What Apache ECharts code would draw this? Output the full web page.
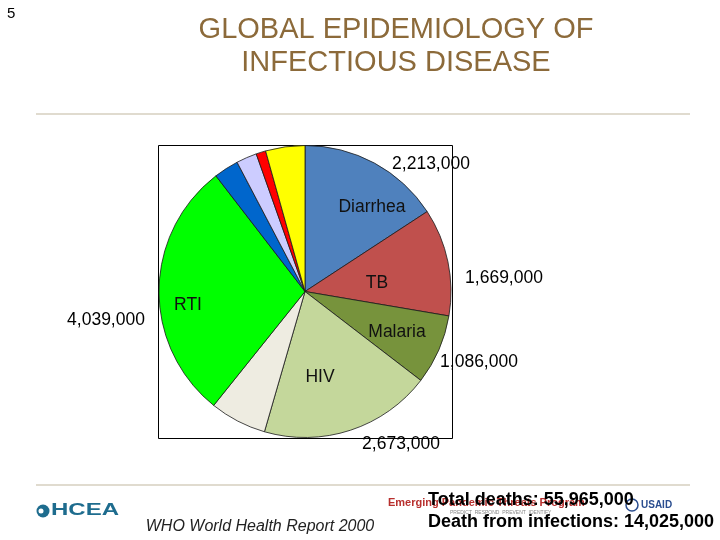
<!DOCTYPE html>
<html>
<head>
<meta charset="utf-8">
<script src="https://cdn.jsdelivr.net/npm/echarts@6/dist/echarts.min.js"></script>
<style>
html,body{margin:0;padding:0;background:#fff;}
#chart{width:720px;height:540px;}
</style>
</head>
<body>
<div id="chart"></div>
<script>
// ---- data ----
var categories = ['Diarrhea', 'TB', 'Malaria', 'HIV', 'Measles', 'RTI', 'Pertussis', 'Tetanus', 'Meningitis', 'Other'];
var deaths = [2213000, 1669000, 1086000, 2673000, 880000, 4039000, 385000, 320000, 150000, 610000];
var sliceColors = ['#4F81BD', '#C0504D', '#77933C', '#C4D79B', '#EEECE1', '#00FF00', '#0066CC', '#CCCCFF', '#FF0000', '#FFFF00'];
var nameLabels = ['Diarrhea', 'TB', 'Malaria', 'HIV', 'RTI'];
var valueLabels = ['Diarrhea', 'TB', 'Malaria', 'HIV', 'RTI'];
var titleLines = ['GLOBAL EPIDEMIOLOGY OF', 'INFECTIOUS DISEASE'];
var totalDeaths = '55,965,000';
var infectionDeaths = '14,025,000';
var sourceText = 'WHO World Health Report 2000';

// label placement (layout, not data)
var namePos = { 'Diarrhea': [372, 207], 'TB': [377, 283], 'Malaria': [397, 332], 'HIV': [320, 377], 'RTI': [188, 305] };
var valuePos = { 'Diarrhea': [431, 164], 'TB': [504, 278], 'Malaria': [479, 362], 'HIV': [401, 444], 'RTI': [106, 320] };

function fmt(v) { return String(v).replace(/\B(?=(\d{3})+(?!\d))/g, ','); }

var chart = echarts.init(document.getElementById('chart'), null, { renderer: 'canvas' });
var FONT = '"Liberation Sans", Arial, sans-serif';

var graphics = [];
// page number
graphics.push({ type: 'text', left: 7, top: 6, style: { text: '5', font: '15px ' + FONT, fill: '#000' } });
// title
titleLines.forEach(function (t, i) {
  graphics.push({ type: 'text', x: 396, y: 30 + i * 33, style: { text: t, font: '29px ' + FONT, fill: '#8C6A3A', textAlign: 'center', textVerticalAlign: 'middle' } });
});
// separator lines
graphics.push({ type: 'line', shape: { x1: 36, y1: 114, x2: 690, y2: 114 }, style: { stroke: '#E0DBCF', lineWidth: 2 } });
graphics.push({ type: 'line', shape: { x1: 36, y1: 485, x2: 690, y2: 485 }, style: { stroke: '#E0DBCF', lineWidth: 2 } });
// plot box
graphics.push({ type: 'rect', shape: { x: 158.5, y: 145.5, width: 294, height: 293 }, style: { stroke: '#000', fill: null, lineWidth: 1 }, z: 0 });
// slice name labels
nameLabels.forEach(function (n) {
  var p = namePos[n];
  graphics.push({ type: 'text', x: p[0], y: p[1], z: 10, style: { text: n, font: '17.5px ' + FONT, fill: '#111', textAlign: 'center', textVerticalAlign: 'middle' } });
});
// value labels
valueLabels.forEach(function (n) {
  var p = valuePos[n];
  var v = deaths[categories.indexOf(n)];
  graphics.push({ type: 'text', x: p[0], y: p[1], z: 10, style: { text: fmt(v), font: '17.5px ' + FONT, fill: '#000', textAlign: 'center', textVerticalAlign: 'middle' } });
});
// HCEA logo (approximation)
graphics.push({ type: 'circle', shape: { cx: 43, cy: 511, r: 6.5 }, style: { fill: '#1E6C8E' } });
graphics.push({ type: 'circle', shape: { cx: 41, cy: 511, r: 2.5 }, style: { fill: '#fff' } });
graphics.push({ type: 'text', x: 51, y: 511, scaleX: 1.5, style: { text: 'HCEA', font: 'bold 16px ' + FONT, fill: '#1E6C8E', textVerticalAlign: 'middle' } });
// source
graphics.push({ type: 'text', x: 260, y: 527, style: { text: sourceText, font: 'italic 16px ' + FONT, fill: '#222', textAlign: 'center', textVerticalAlign: 'middle' } });
// program logo text behind totals
graphics.push({ type: 'text', x: 388, y: 503, style: { text: 'Emerging Pandemic Threats Program', font: 'bold 11px ' + FONT, fill: '#B8302E', textVerticalAlign: 'middle' } });
graphics.push({ type: 'text', x: 450, y: 513, style: { text: 'PREDICT  RESPOND  PREVENT  IDENTIFY', font: '5px ' + FONT, fill: '#888', textVerticalAlign: 'middle' } });
graphics.push({ type: 'circle', shape: { cx: 632, cy: 505, r: 6 }, style: { fill: '#fff', stroke: '#2A4D8F', lineWidth: 1.5 } });
graphics.push({ type: 'text', x: 641, y: 505, style: { text: 'USAID', font: 'bold 10px ' + FONT, fill: '#2A4D8F', textVerticalAlign: 'middle' } });
// totals
graphics.push({ type: 'text', x: 428, y: 500, z: 20, style: { text: 'Total deaths: ' + totalDeaths, font: 'bold 18px ' + FONT, fill: '#000', textVerticalAlign: 'middle' } });
graphics.push({ type: 'text', x: 428, y: 522, z: 20, style: { text: 'Death from infections: ' + infectionDeaths, font: 'bold 18px ' + FONT, fill: '#000', textVerticalAlign: 'middle' } });

chart.setOption({
  animation: false,
  backgroundColor: '#fff',
  graphic: graphics,
  series: [{
    type: 'pie',
    center: [305, 291.5],
    radius: 146,
    startAngle: 90,
    clockwise: true,
    minAngle: 0,
    avoidLabelOverlap: false,
    label: { show: false },
    labelLine: { show: false },
    emphasis: { disabled: true },
    itemStyle: { borderColor: '#1a1a1a', borderWidth: 0.8 },
    data: categories.map(function (c, i) {
      return { name: c, value: deaths[i], itemStyle: { color: sliceColors[i] } };
    })
  }]
});
</script>
</body>
</html>
